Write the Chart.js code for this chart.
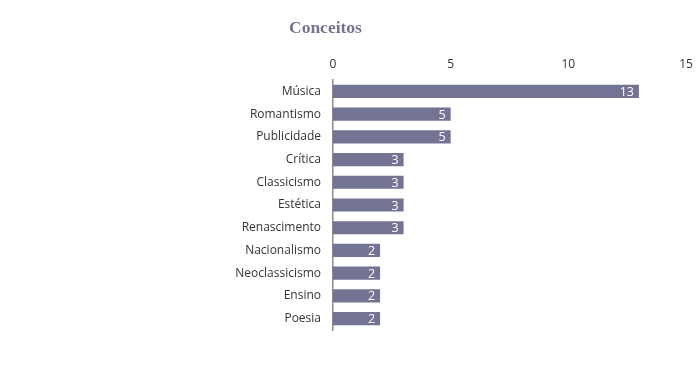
<!DOCTYPE html>
<html>
<head>
<meta charset="utf-8">
<script src="https://cdn.jsdelivr.net/npm/chart.js@4/dist/chart.umd.min.js"></script>
<style>
  html, body { margin: 0; padding: 0; background: #fff; }
  #wrap { width: 698px; height: 365px; }
</style>
</head>
<body>
<div id="wrap"><canvas id="grafico" width="698" height="365"></canvas></div>
<script>
const categorias = ['Música', 'Romantismo', 'Publicidade', 'Crítica', 'Classicismo', 'Estética',
    'Renascimento', 'Nacionalismo', 'Neoclassicismo', 'Ensino', 'Poesia'];
const valores = [13, 5, 5, 3, 3, 3, 3, 2, 2, 2, 2];
const ticksX = [0, 5, 10, 15];
const titulo = 'Conceitos';

const corBarra = '#737394';

// título fixo à esquerda, como no original
const pluginTitulo = {
    id: 'titulo',
    afterDraw(chart) {
        const ctx = chart.ctx;
        ctx.save();
        ctx.font = 'bold 17.5px "Liberation Serif", serif';
        ctx.fillStyle = '#737391';
        ctx.textAlign = 'left';
        ctx.textBaseline = 'middle';
        ctx.fillText(titulo, 289, 28);
        ctx.restore();
    }
};

// rótulos brancos dentro das barras
const pluginRotulos = {
    id: 'rotulos',
    afterDatasetsDraw(chart) {
        const ctx = chart.ctx;
        const meta = chart.getDatasetMeta(0);
        ctx.save();
        ctx.font = '12.5px "Open Sans", sans-serif';
        ctx.fillStyle = '#ffffff';
        ctx.textAlign = 'right';
        ctx.textBaseline = 'middle';
        meta.data.forEach((barra, i) => {
            ctx.fillText(String(valores[i]), barra.x - 5, barra.y + 1);
        });
        ctx.restore();
    }
};

new Chart(document.getElementById('grafico'), {
    type: 'bar',
    data: {
        labels: categorias,
        datasets: [{
            data: valores,
            backgroundColor: corBarra,
            borderWidth: 0,
            barPercentage: 0.58,
            categoryPercentage: 1
        }]
    },
    options: {
        indexAxis: 'y',
        responsive: false,
        animation: false,
        layout: { padding: { top: 50, right: 12, bottom: 35, left: 0 } },
        plugins: {
            legend: { display: false },
            title: { display: false },
            tooltip: { enabled: false }
        },
        scales: {
            x: {
                position: 'top',
                min: 0,
                max: 15,
                afterFit(scale) {
                    scale.height = 30;
                    scale.paddingLeft = 0;
                    scale.paddingRight = 0;
                },
                afterBuildTicks(scale) { scale.ticks = ticksX.map(v => ({ value: v })); },
                grid: { display: false, drawTicks: false },
                border: { display: false },
                ticks: {
                    padding: 8,
                    color: '#333',
                    font: { family: '"Open Sans", sans-serif', size: 12 }
                }
            },
            y: {
                afterFit(scale) { scale.width = 333; },
                grid: { display: false, drawTicks: false },
                border: { display: true, color: '#8a8a8a', width: 1.5 },
                ticks: {
                    padding: 12,
                    color: '#333',
                    font: { family: '"Open Sans", sans-serif', size: 12 }
                }
            }
        }
    },
    plugins: [pluginTitulo, pluginRotulos]
});
</script>
</body>
</html>
